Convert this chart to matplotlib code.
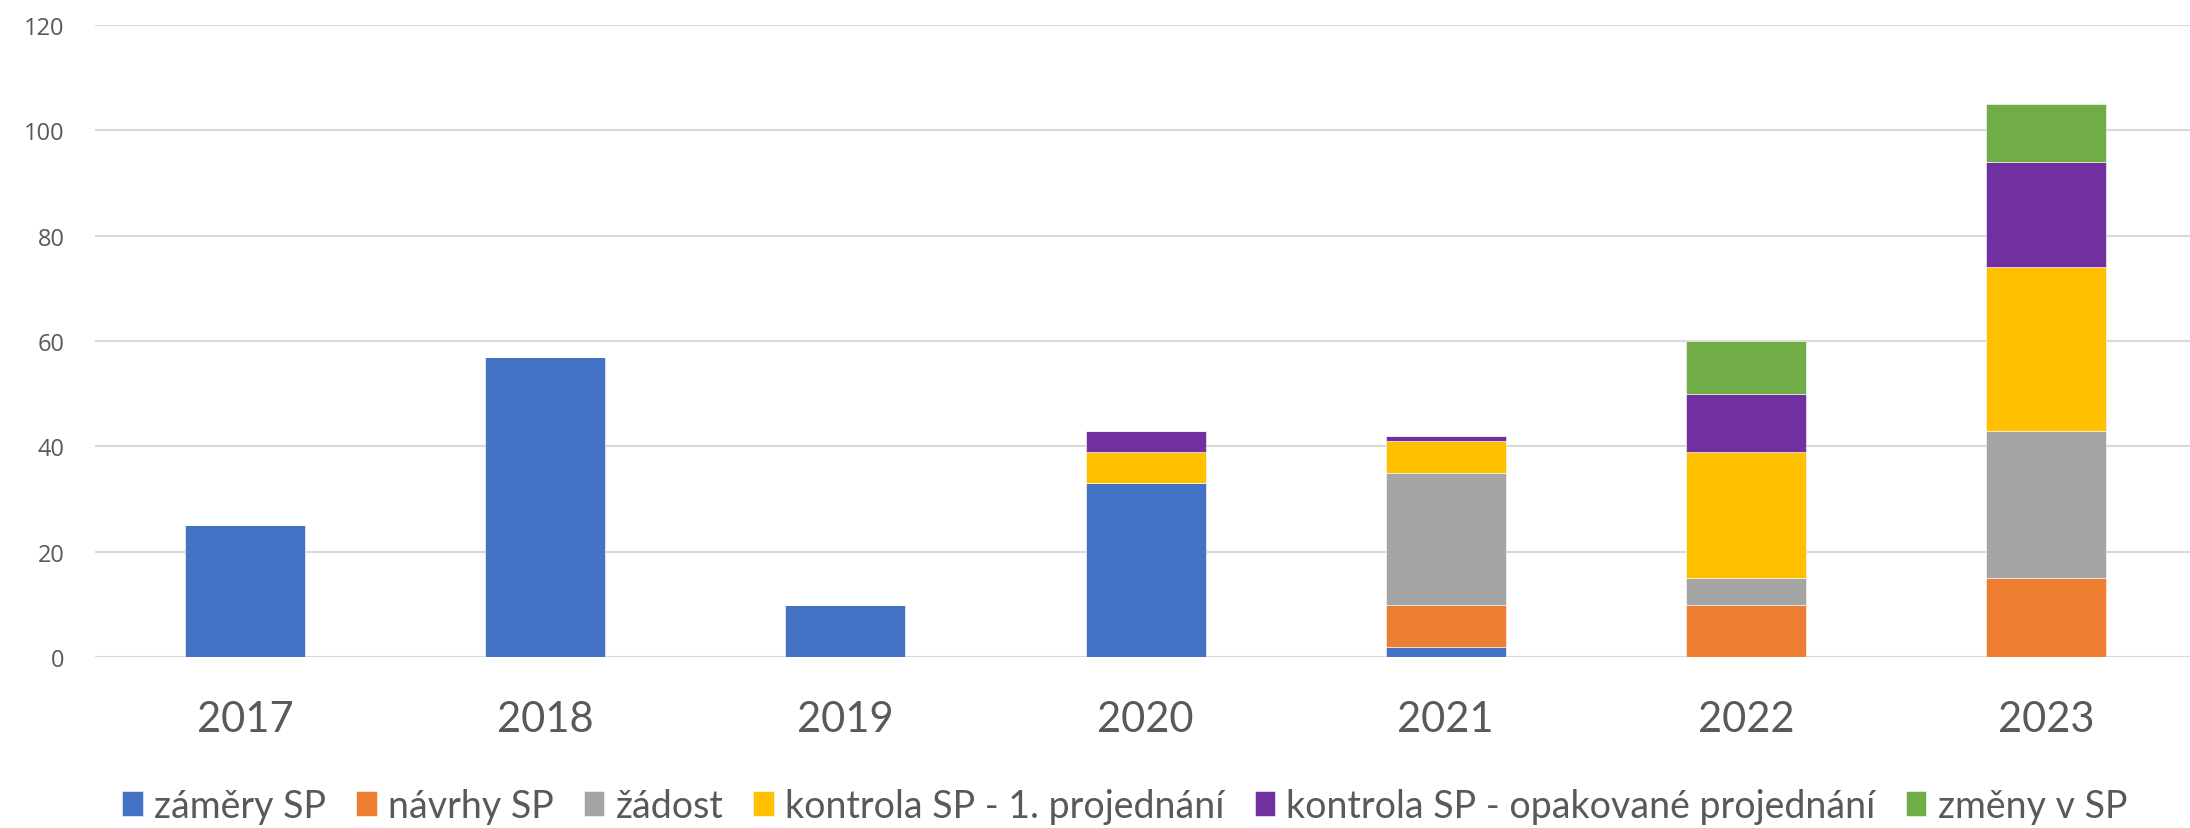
import numpy as np
import matplotlib
matplotlib.use("Agg")
import matplotlib.pyplot as plt

# ---- data ----
years = ["2017", "2018", "2019", "2020", "2021", "2022", "2023"]
series_names = ["záměry SP", "návrhy SP", "žádost", "kontrola SP - 1. projednání",
                "kontrola SP - opakované projednání", "změny v SP"]
zamery = [25, 57, 10, 33, 2, 0, 0]
navrhy = [0, 0, 0, 0, 8, 10, 15]
zadost = [0, 0, 0, 0, 25, 5, 28]
kontrola1 = [0, 0, 0, 6, 6, 24, 31]
kontrola_opak = [0, 0, 0, 4, 1, 11, 20]
zmeny = [0, 0, 0, 0, 0, 10, 11]
colors = ["#4472C4", "#ED7D31", "#A5A5A5", "#FFC000", "#7030A0", "#70AD47"]

txt_color = "#595959"

fig = plt.figure(figsize=(21.9, 8.29), dpi=100)
# plot area: x 95..2196 px, y 26..658 px
ax = fig.add_axes([0.0434, 0.206, 0.9594, 0.763])

x = np.arange(len(years))
bottom = np.zeros(len(years))
for name, vals, col in zip(series_names,
                           [zamery, navrhy, zadost, kontrola1, kontrola_opak, zmeny],
                           colors):
    vals = np.array(vals, dtype=float)
    ax.bar(x, vals, width=0.4, bottom=bottom, color=col, label=name,
           edgecolor="white", linewidth=0.4, zorder=3)
    bottom += vals

ax.set_xlim(-0.5, len(years) - 0.5)
ax.set_ylim(0, 120)
ax.set_yticks(range(0, 121, 20))
ax.grid(axis="y", color="#D9D9D9", linewidth=1.5, zorder=0)
for s in ax.spines.values():
    s.set_visible(False)

ax.set_xticks(x)
ax.set_xticklabels(years, fontsize=30, color=txt_color, family=["Lato", "DejaVu Sans"])
ax.tick_params(axis="x", length=0, pad=31)
ax.tick_params(axis="y", length=0, pad=22, labelsize=17, labelcolor=txt_color)
for lab in ax.get_yticklabels():
    lab.set_family(["Open Sans", "DejaVu Sans"])

leg = fig.legend(loc="center", bbox_to_anchor=(0.5135, 0.027), ncol=6, frameon=False,
                 handlelength=0.55, handleheight=0.65, handletextpad=0.3,
                 columnspacing=0.8, prop={"family": ["Lato", "DejaVu Sans"], "size": 27})
for t in leg.get_texts():
    t.set_color(txt_color)

fig.savefig("out.png", dpi=100)
